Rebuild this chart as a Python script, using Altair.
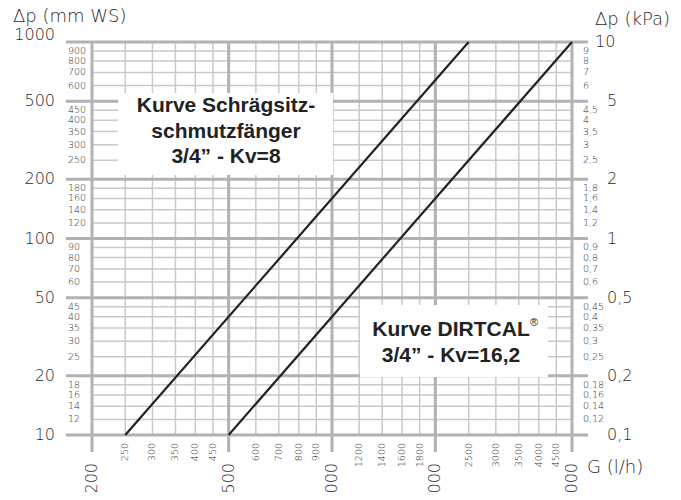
import altair as alt
import pandas as pd

# ---- data ----
major_g = [200, 500, 1000, 2000, 5000]
minor_g = [250, 300, 350, 400, 450, 600, 700, 800, 900,
           1200, 1400, 1600, 1800, 2500, 3000, 3500, 4000, 4500]
major_dp = [10, 20, 50, 100, 200, 500, 1000]
minor_dp = [12, 14, 16, 18, 25, 30, 35, 40, 45, 60, 70, 80, 90,
            120, 140, 160, 180, 250, 300, 350, 400, 450, 600, 700, 800, 900]
kpa_major = ["0,1", "0,2", "0,5", "1", "2", "5", "10"]
kpa_minor = ["0,12", "0,14", "0,16", "0,18", "0,25", "0,3", "0,35", "0,4", "0,45",
             "0,6", "0,7", "0,8", "0,9", "1,2", "1,4", "1,6", "1,8",
             "2,5", "3", "3,5", "4", "4,5", "6", "7", "8", "9"]

curve1_g = [250, 2500]
curve1_dp = [10, 1000]
curve2_g = [500, 5000]
curve2_dp = [10, 1000]

label1_lines = ["Kurve Schrägsitz-", "schmutzfänger", "3/4” - Kv=8"]
label2_lines = ["Kurve DIRTCAL", "3/4” - Kv=16,2"]
title_left = "Δp (mm WS)"
title_right = "Δp (kPa)"
title_x = "G (l/h)"

# ---- styling ----
W, H = 480, 393
MAJ = "#b2b2b2"
MIN = "#c9c9c9"
TXT = "#2a2a2a"
FONT = "DejaVu Sans"
BOLD = "Liberation Sans"

xs = alt.Scale(type="log", domain=[200, 5000], nice=False)
ys = alt.Scale(type="log", domain=[10, 1000], nice=False)


def X(f):
    return alt.X(f"{f}:Q", scale=xs, axis=None)


def Y(f):
    return alt.Y(f"{f}:Q", scale=ys, axis=None)


df_mg = pd.DataFrame({"g": major_g, "label": [str(v) for v in major_g]})
df_ng = pd.DataFrame({"g": minor_g, "label": [str(v) for v in minor_g]})
df_mp = pd.DataFrame({"p": major_dp, "label": [str(v) for v in major_dp], "k": kpa_major})
df_np = pd.DataFrame({"p": minor_dp, "label": [str(v) for v in minor_dp], "k": kpa_minor})

curves = pd.DataFrame({
    "G": curve1_g + curve2_g,
    "dp": curve1_dp + curve2_dp,
    "curve": ["Kv8"] * len(curve1_g) + ["Kv16"] * len(curve2_g),
})

minor_v = alt.Chart(df_ng).mark_rule(color=MIN, strokeWidth=1.5).encode(
    x=X("g"), y=alt.value(0), y2=alt.value(H))
minor_h = alt.Chart(df_np).mark_rule(color=MIN, strokeWidth=1.5).encode(
    y=Y("p"), x=alt.value(0), x2=alt.value(W))
major_v = alt.Chart(df_mg).mark_rule(color=MAJ, strokeWidth=3).encode(
    x=X("g"), y=alt.value(0), y2=alt.value(H + 17))
major_h = alt.Chart(df_mp).mark_rule(color=MAJ, strokeWidth=3).encode(
    y=Y("p"), x=alt.value(-26), x2=alt.value(W + 16))

lab1 = pd.DataFrame({"t": label1_lines, "i": list(range(len(label1_lines)))})
lab2 = pd.DataFrame({"t": label2_lines, "i": list(range(len(label2_lines)))})

box1 = alt.Chart(lab1.head(1)).mark_rect(color="white").encode(
    x=alt.value(26), x2=alt.value(241), y=alt.value(51), y2=alt.value(133))
box2 = alt.Chart(lab2.head(1)).mark_rect(color="white").encode(
    x=alt.value(268), x2=alt.value(456), y=alt.value(263), y2=alt.value(335))

lines = alt.Chart(curves).mark_line(color="#222222", strokeWidth=2.2).encode(
    x=X("G"), y=Y("dp"), detail="curve:N")

t1 = alt.Chart(lab1).mark_text(font=BOLD, fontWeight="bold", fontSize=21,
                               color="#222222", align="center", baseline="middle").encode(
    x=alt.value(134),
    y=alt.Y("i:Q", scale=alt.Scale(domain=[0, 2], range=[64, 115]), axis=None),
    text="t:N")
t2 = alt.Chart(lab2).mark_text(font=BOLD, fontWeight="bold", fontSize=21,
                               color="#222222", align="center", baseline="middle").encode(
    x=alt.value(359),
    y=alt.Y("i:Q", scale=alt.Scale(domain=[0, 1], range=[288, 314]), axis=None),
    text="t:N")
reg = alt.Chart(lab2.head(1)).mark_text(font=BOLD, fontSize=11, color="#222222",
                                        align="left", baseline="middle", text="®").encode(
    x=alt.value(438), y=alt.value(281))

common = dict(font=FONT, color=TXT, fontWeight=300)

left_major = alt.Chart(df_mp).transform_filter("datum.p != 1000").mark_text(
    align="right", baseline="middle", fontSize=16, **common).encode(
    y=Y("p"), x=alt.value(-37), text="label:N")
left_top = alt.Chart(df_mp).transform_filter("datum.p == 1000").mark_text(
    align="right", baseline="middle", fontSize=16, dy=-7, **common).encode(
    y=Y("p"), x=alt.value(-37), text="label:N")
left_minor = alt.Chart(df_np).mark_text(
    align="left", baseline="middle", fontSize=9.5, **common).encode(
    y=Y("p"), x=alt.value(-24), text="label:N")
right_minor = alt.Chart(df_np).mark_text(
    align="left", baseline="middle", fontSize=9.5, **common).encode(
    y=Y("p"), x=alt.value(491), text="k:N")
right_major = alt.Chart(df_mp).transform_filter("datum.p != 1000").mark_text(
    align="left", baseline="middle", fontSize=16, **common).encode(
    y=Y("p"), x=alt.value(515), text="k:N")
right_top = alt.Chart(df_mp).transform_filter("datum.p == 1000").mark_text(
    align="left", baseline="middle", fontSize=16, **common).encode(
    y=Y("p"), x=alt.value(503), text="k:N")
x_minor = alt.Chart(df_ng).mark_text(
    align="right", baseline="middle", angle=270, fontSize=9.5, **common).encode(
    x=X("g"), y=alt.value(H + 8), text="label:N")
x_major = alt.Chart(df_mg).mark_text(
    align="right", baseline="middle", angle=270, fontSize=16, **common).encode(
    x=X("g"), y=alt.value(H + 28), text="label:N")

titles = pd.DataFrame({"t": [title_left, title_right, title_x]})
tl = alt.Chart(titles.iloc[[0]]).mark_text(align="left", baseline="middle", fontSize=18, **common).encode(
    x=alt.value(-79), y=alt.value(-25), text="t:N")
tr = alt.Chart(titles.iloc[[1]]).mark_text(align="left", baseline="middle", fontSize=18, **common).encode(
    x=alt.value(503), y=alt.value(-22), text="t:N")
tx = alt.Chart(titles.iloc[[2]]).mark_text(align="left", baseline="middle", fontSize=18, **common).encode(
    x=alt.value(495), y=alt.value(H + 33), text="t:N")

chart = alt.layer(
    minor_v, minor_h, major_v, major_h, box1, box2, lines,
    t1, t2, reg,
    left_major, left_top, left_minor, right_minor, right_major, right_top,
    x_minor, x_major, tl, tr, tx,
).resolve_scale(y="independent").properties(
    width=W, height=H,
    autosize=alt.AutoSizeParams(type="none"),
    padding={"left": 84, "top": 34, "right": 101, "bottom": 57},
).configure_view(stroke=None).configure(background="white")

chart.save("out.html", embed_options={"renderer": "svg", "actions": False})
